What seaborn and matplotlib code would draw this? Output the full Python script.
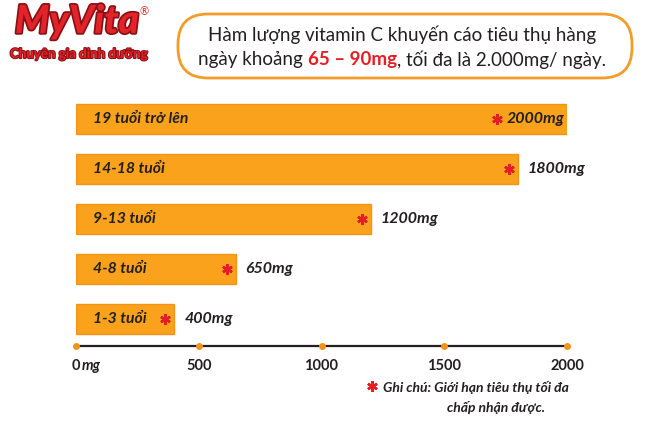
import matplotlib
matplotlib.use("Agg")
import matplotlib.pyplot as plt
import matplotlib.patheffects as pe
from matplotlib.patches import FancyBboxPatch
from matplotlib import transforms
import seaborn as sns

sns.set_style("white")
plt.rcParams['font.family'] = ['Lato', 'DejaVu Sans']

# data
groups = ["19 tuổi trở lên", "14-18 tuổi", "9-13 tuổi", "4-8 tuổi", "1-3 tuổi"]
limits = [2000, 1800, 1200, 650, 400]
tick_values = [0, 500, 1000, 1500, 2000]
title_line1 = "Hàm lượng vitamin C khuyến cáo tiêu thụ hàng"
title_parts = ["ngày khoảng ", "65 – 90mg", ", tối đa là 2.000mg/ ngày."]
note_line1 = "Ghi chú: Giới hạn tiêu thụ tối đa"
note_line2 = "chấp nhận được."

ORANGE = '#FAA21B'
EDGE = '#F39419'
RED = '#E31E24'
DARK = '#231F20'

W, H = 660, 422
fig = plt.figure(figsize=(W / 100, H / 100), dpi=100)
fig.patch.set_facecolor('white')
ax = fig.add_axes([76 / W, 76 / H, 491 / W, 252 / H])
renderer = fig.canvas.get_renderer()

sns.barplot(x=limits, y=groups, orient='h', color=ORANGE, saturation=1,
            width=0.6, edgecolor=EDGE, linewidth=1, ax=ax)
ax.set_xlim(0, 2000)
ax.set_ylim(4.54, -0.5)
for s in ax.spines.values():
    s.set_visible(False)
ax.set_yticks([])
ax.set_ylabel('')
ax.set_xticks(tick_values)
ax.set_xticklabels([str(t) for t in tick_values], fontweight='bold',
                   fontsize=10.5, color=DARK)
TICK_PAD = 9.6
ax.tick_params(axis='x', length=0, pad=TICK_PAD)

# axis line with orange dots
ax.plot(tick_values, [4.54] * len(tick_values), color=DARK, lw=1.6,
        marker='o', ms=4, mfc=EDGE, mec=EDGE, clip_on=False, zorder=5)
ax.annotate("mg", xy=(0, 4.54), xytext=(6, -TICK_PAD * 100 / 72),
            textcoords='offset pixels', fontsize=10.5, fontweight='bold',
            fontstyle='italic', color=DARK, va='top', ha='left',
            annotation_clip=False)

# labels on bars
for i, (g, v) in enumerate(zip(groups, limits)):
    ax.annotate(g, xy=(0, i), xytext=(17, 0), textcoords='offset pixels',
                fontsize=11.3, fontweight='bold', fontstyle='italic',
                color=DARK, va='center', ha='left')
    if v == max(limits):
        txt = ax.annotate(f"{v}mg", xy=(v, i), xytext=(-3, 0),
                          textcoords='offset pixels', fontsize=11.5,
                          fontweight='bold', fontstyle='italic', color=DARK,
                          va='center', ha='right')
        star_dx = -3 - txt.get_window_extent(renderer).width - 9
    else:
        star_dx = -9
        ax.annotate(f"{v}mg", xy=(v, i), xytext=(10, 0),
                    textcoords='offset pixels', fontsize=11.5,
                    fontweight='bold', fontstyle='italic', color=DARK,
                    va='center', ha='left')
    tr = transforms.offset_copy(ax.transData, fig=fig, x=star_dx, y=0, units='dots')
    ax.plot([v], [i], marker=(6, 2, 0), ms=7.5, mew=1.8, color=RED,
            transform=tr, zorder=6)

# title box (pixel coords)
box = FancyBboxPatch((178, H - 78), 454, 64,
                     boxstyle="round,pad=0,rounding_size=30",
                     transform=transforms.IdentityTransform(),
                     fc='white', ec='#F39C2A', lw=2)
fig.patches.append(box)
fig.text(402 / W, 1 - 35 / H, title_line1, ha='center', va='center',
         fontsize=13.5, color=DARK)

pieces = []
for k, part in enumerate(title_parts):
    bold = k == 1
    t = fig.text(0, 1 - 60 / H, part, ha='left', va='center', fontsize=13.5,
                 fontweight='bold' if bold else 'normal',
                 color=RED if bold else DARK)
    pieces.append(t)
widths = [t.get_window_extent(renderer).width for t in pieces]
x0 = 402 - sum(widths) / 2
for t, w in zip(pieces, widths):
    t.set_x(x0 / W)
    x0 += w

# footnote
fig.text(383 / W, 1 - 387 / H, note_line1, ha='left', va='center', fontsize=10,
         fontweight='bold', fontstyle='italic', color=DARK)
fig.text(496 / W, 1 - 407 / H, note_line2, ha='center', va='center', fontsize=10,
         fontweight='bold', fontstyle='italic', color=DARK)
fig.lines.append(plt.Line2D([372 / W], [1 - 386 / H], marker=(6, 2, 0), ms=7.5,
                            mew=1.8, color=RED, transform=fig.transFigure))

# logo
stroke = [pe.Stroke(linewidth=2.5, foreground='#8B1014'), pe.Normal()]
fig.text(15 / W, 1 - 33 / H, "MyVita", fontsize=28, fontweight='black',
         fontstyle='italic', color='#E2242A', path_effects=stroke)
fig.text(140 / W, 1 - 15 / H, "®", fontsize=8, color='#E2242A')
fig.text(10 / W, 1 - 58 / H, "Chuyên gia dinh dưỡng", fontsize=9.6,
         fontweight='bold', color='#E2242A',
         path_effects=[pe.Stroke(linewidth=1.5, foreground='#8B1014'), pe.Normal()])

fig.savefig("out.png", dpi=100)
